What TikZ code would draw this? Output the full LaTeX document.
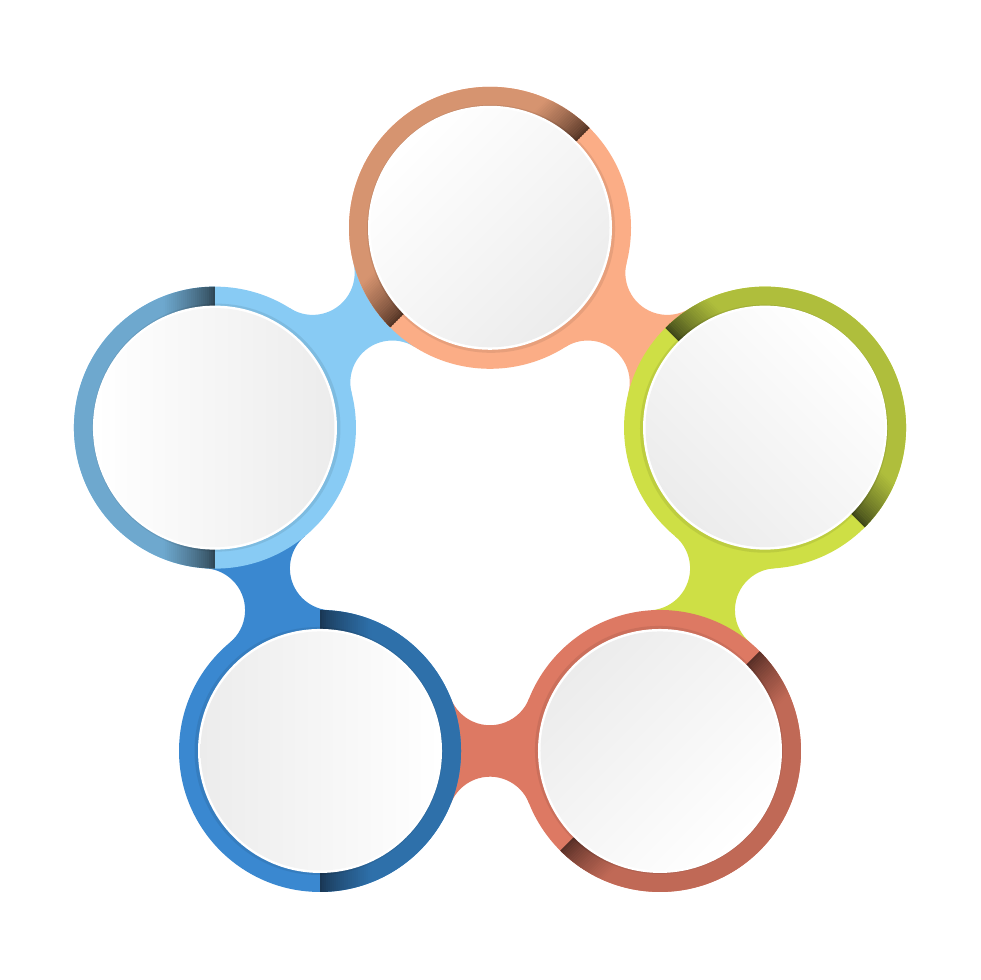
\documentclass[tikz,border=0pt]{standalone}
\usetikzlibrary{calc}
\definecolor{tLight}{RGB}{251,173,134}
\definecolor{tDark}{RGB}{214,148,112}
\definecolor{tDeep}{RGB}{78,48,34}
\definecolor{rLight}{RGB}{206,223,69}
\definecolor{rDark}{RGB}{175,190,60}
\definecolor{rDeep}{RGB}{58,66,24}
\definecolor{brLight}{RGB}{221,121,99}
\definecolor{brDark}{RGB}{192,105,86}
\definecolor{brDeep}{RGB}{82,44,36}
\definecolor{blLight}{RGB}{58,136,208}
\definecolor{blDark}{RGB}{46,112,170}
\definecolor{blDeep}{RGB}{24,52,80}
\definecolor{lLight}{RGB}{136,203,244}
\definecolor{lDark}{RGB}{110,168,206}
\definecolor{lDeep}{RGB}{44,66,80}
\definecolor{discgray}{RGB}{236,236,236}
\tikzset{
  discshadow/.style={fill=black, opacity=0.08},
  discrim/.style={fill=white},
}
% gradient strips of the dark half of a ring (local coordinates)
\newcommand\ringstrips[2]{%
  \foreach \i in {0,...,25} {
    \pgfmathtruncatemacro\pp{min(100,round(100*((\i+0.5)/26)^0.75))}
    \fill[#1!\pp!#2] (\i*2,-143) rectangle (\i*2+2.4,143);
  }
  \fill[#1] (52,-143) rectangle (143,143);
}
% one ring: #1 centre, #2 direction of dark half, #3 light, #4 dark, #5 deepest, #6 shading angle
\newcommand\pcircle[6]{%
  \begin{scope}[shift={(#1)}, rotate=#2]
    \fill[#3] (0,0) circle (141);
    \begin{scope}
      \clip (0,0) circle (141);
      \clip (0,-143) rectangle (143,143);
      \ringstrips{#4}{#5}
    \end{scope}
    \fill[discshadow] (-1.5,0) circle (124);
    \fill[discrim] (0,0) circle (122);
  \end{scope}
  \shade[top color=white, bottom color=discgray, shading angle=#6] (#1) circle (119.5);
}
% connector: #1 start centre, #2 rotation, #3 colour
\newcommand\pconn[3]{%
  \fill[#3, shift={(#1)}, rotate=#2] (0,0) -- (130.98,52.19)
    arc[start angle=201.72, end angle=338.28, radius=42] -- (340,0) -- (209.02,-52.19)
    arc[start angle=21.72, end angle=158.28, radius=42] -- cycle;
}
\begin{document}
\begin{tikzpicture}[x=1pt,y=1pt]
  \fill[white] (0,0) rectangle (980,980);
  \useasboundingbox (0,0) rectangle (980,980);
  \coordinate (P) at (490,463);
  \coordinate (cT)  at ($(P)+(90:289.2)$);
  \coordinate (cR)  at ($(P)+(18:289.2)$);
  \coordinate (cBR) at ($(P)+(-54:289.2)$);
  \coordinate (cBL) at ($(P)+(-126:289.2)$);
  \coordinate (cL)  at ($(P)+(162:289.2)$);
  % connectors
  \pconn{cL}{36}{lLight}
  \pconn{cT}{-36}{tLight}
  \pconn{cR}{-108}{rLight}
  \pconn{cBR}{180}{brLight}
  \pconn{cBL}{108}{blLight}
  % rings
  \pcircle{cT}{135}{tLight}{tDark}{tDeep}{45}
  \pcircle{cR}{45}{rLight}{rDark}{rDeep}{-45}
  \pcircle{cBR}{-45}{brLight}{brDark}{brDeep}{-135}
  \pcircle{cBL}{0}{blLight}{blDark}{blDeep}{-90}
  \pcircle{cL}{180}{lLight}{lDark}{lDeep}{90}
\end{tikzpicture}
\end{document}
